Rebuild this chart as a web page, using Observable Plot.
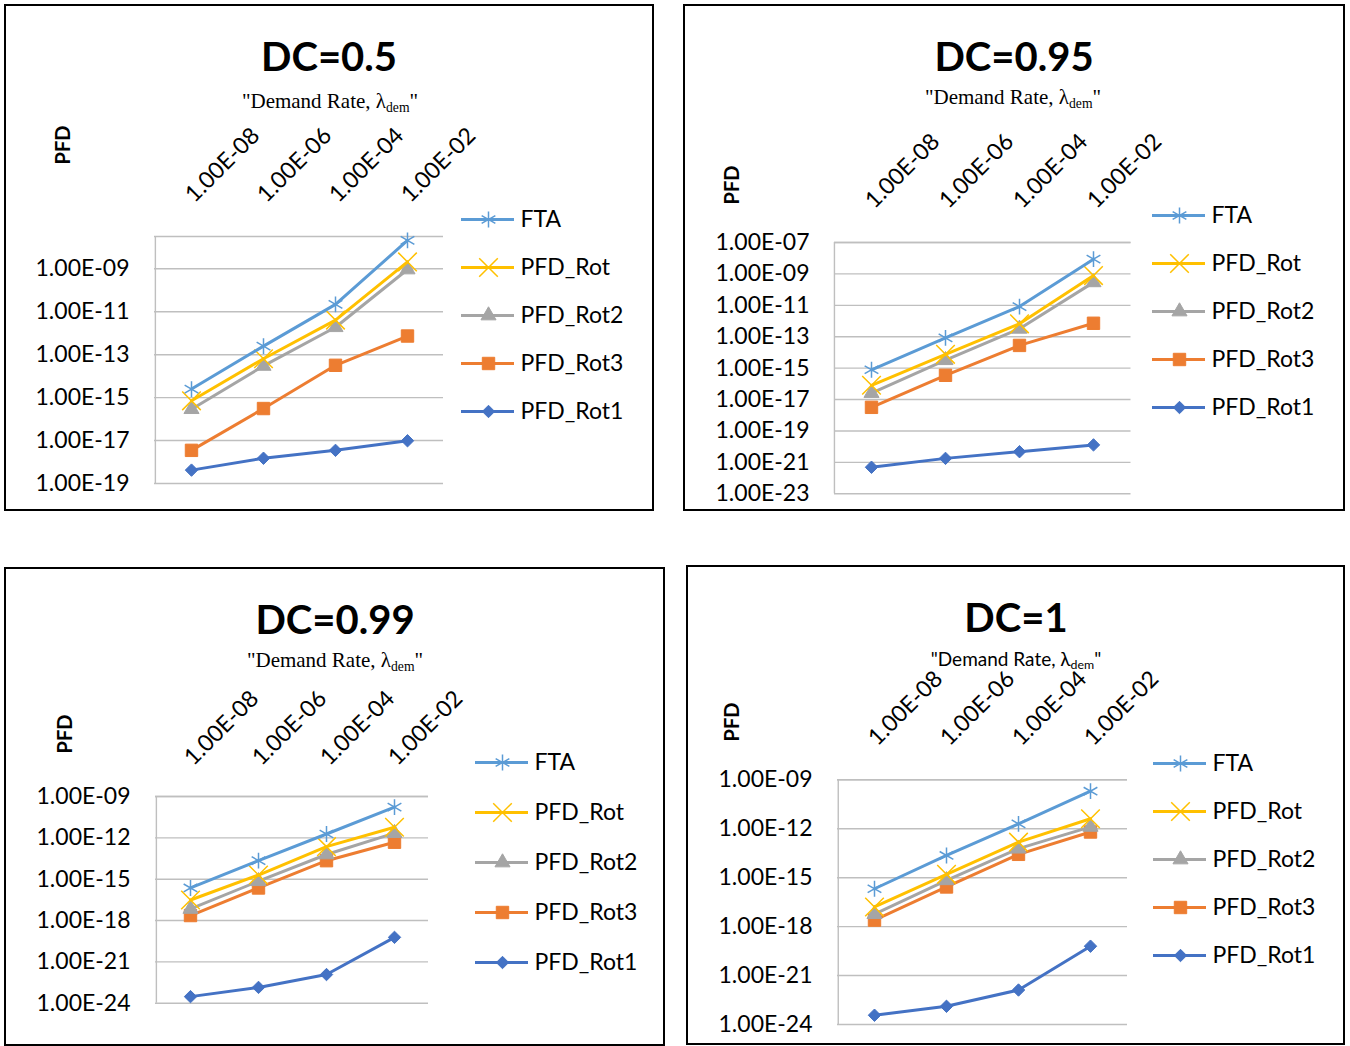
<!DOCTYPE html>
<html>
<head>
<meta charset="utf-8">
<script src="https://cdn.jsdelivr.net/npm/d3@7"></script>
<script src="https://cdn.jsdelivr.net/npm/@observablehq/plot@0.6"></script>
<style>
  html, body { margin: 0; padding: 0; background: #fff; }
  body { width: 1350px; height: 1046px; position: relative; overflow: hidden; font-family: Lato, "Open Sans", sans-serif; color: #000; }
  .box { position: absolute; border: 2.5px solid #000; box-sizing: border-box; }
  .abs { position: absolute; white-space: nowrap; line-height: 1; }
  .title { font-weight: 700; font-size: 40px; }
  .sub-serif { font-family: "Liberation Serif", "DejaVu Serif", serif; font-size: 21px; }
  .sub-sans { font-family: Lato, sans-serif; font-size: 19px; }
  .sub-serif sub, .sub-sans sub { font-size: 0.65em; vertical-align: -0.3em; line-height: 0; }
  .pfd { font-weight: 700; font-size: 20px; }
  svg { position: absolute; overflow: visible; }
</style>
</head>
<body>
<script>
// ---------------- DATA ----------------
const rates = ["1.00E-08", "1.00E-06", "1.00E-04", "1.00E-02"];
const seriesNames = ["FTA", "PFD_Rot", "PFD_Rot2", "PFD_Rot3", "PFD_Rot1"];
const seriesColors = ["#5B9BD5", "#FFC000", "#A5A5A5", "#ED7D31", "#4472C4"];
const seriesSymbols = ["asterisk", "times", "triangle", "square", "diamond2"];

// DC = 0.5
const dc050_FTA      = [2.5e-15, 2.5e-13, 2.2e-11, 2.1e-8];
const dc050_PFD_Rot  = [7.1e-16, 6.5e-14, 4.1e-12, 2.1e-9];
const dc050_PFD_Rot2 = [2.9e-16, 3.0e-14, 1.9e-12, 9.3e-10];
const dc050_PFD_Rot3 = [3.5e-18, 3.1e-16, 3.2e-14, 7.4e-13];
const dc050_PFD_Rot1 = [4.2e-19, 1.5e-18, 3.5e-18, 9.8e-18];
const dc050_ticks    = [1e-9, 1e-11, 1e-13, 1e-15, 1e-17, 1e-19];

// DC = 0.95
const dc095_FTA      = [7.9e-16, 8.5e-14, 8.3e-12, 8.7e-9];
const dc095_PFD_Rot  = [8.1e-17, 7.6e-15, 6.6e-13, 7.8e-10];
const dc095_PFD_Rot2 = [2.6e-17, 3.2e-15, 3.2e-13, 2.9e-10];
const dc095_PFD_Rot3 = [3.2e-18, 3.5e-16, 2.8e-14, 7.2e-13];
const dc095_PFD_Rot1 = [4.9e-22, 1.8e-21, 4.8e-21, 1.3e-20];
const dc095_ticks    = [1e-7, 1e-9, 1e-11, 1e-13, 1e-15, 1e-17, 1e-19, 1e-21, 1e-23];

// DC = 0.99
const dc099_FTA      = [2.3e-16, 2.2e-14, 1.9e-12, 1.7e-10];
const dc099_PFD_Rot  = [3.1e-17, 2.0e-15, 2.3e-13, 5.9e-12];
const dc099_PFD_Rot2 = [6.9e-18, 7.1e-16, 6.2e-14, 2.2e-12];
const dc099_PFD_Rot3 = [2.3e-18, 2.3e-16, 2.2e-14, 4.8e-13];
const dc099_PFD_Rot1 = [3.0e-24, 1.4e-23, 1.2e-22, 6.0e-20];
const dc099_ticks    = [1e-9, 1e-12, 1e-15, 1e-18, 1e-21, 1e-24];

// DC = 1
const dc100_FTA      = [2.1e-16, 2.3e-14, 2.0e-12, 2.0e-10];
const dc100_PFD_Rot  = [1.6e-17, 1.6e-15, 1.5e-13, 4.1e-12];
const dc100_PFD_Rot2 = [5.8e-18, 6.9e-16, 6.0e-14, 1.3e-12];
const dc100_PFD_Rot3 = [2.5e-18, 2.7e-16, 2.7e-14, 6.3e-13];
const dc100_PFD_Rot1 = [3.7e-24, 1.3e-23, 1.3e-22, 6.3e-20];
const dc100_ticks    = [1e-9, 1e-12, 1e-15, 1e-18, 1e-21, 1e-24];

const titles = ["DC=0.5", "DC=0.95", "DC=0.99", "DC=1"];
const subtitleHTML = '"Demand Rate, \u03bb<sub>dem</sub>"';
const yLabel = "PFD";

// ---------------- LAYOUT ----------------
const panels = [
  { title: titles[0], series: [dc050_FTA, dc050_PFD_Rot, dc050_PFD_Rot2, dc050_PFD_Rot3, dc050_PFD_Rot1], ticks: dc050_ticks, yMax: 3.2e-8,
    box: {l: 4, t: 4, r: 654, b: 511}, plot: {l: 154, t: 236, r: 443, b: 483},
    titleC: [329, 56], subC: [330, 101], subClass: "sub-serif", pfdC: [62, 145], xDy: -33,
    legend: {x: 461, r0: 218.3, r4: 411.7} },
  { title: titles[1], series: [dc095_FTA, dc095_PFD_Rot, dc095_PFD_Rot2, dc095_PFD_Rot3, dc095_PFD_Rot1], ticks: dc095_ticks, yMax: 1e-7,
    box: {l: 683, t: 4, r: 1345, b: 511}, plot: {l: 834, t: 242, r: 1130.5, b: 493.3},
    titleC: [1014, 56], subC: [1013, 97], subClass: "sub-serif", pfdC: [731, 185], xDy: -33,
    legend: {x: 1152, r0: 214, r4: 407} },
  { title: titles[2], series: [dc099_FTA, dc099_PFD_Rot, dc099_PFD_Rot2, dc099_PFD_Rot3, dc099_PFD_Rot1], ticks: dc099_ticks, yMax: 1e-9,
    box: {l: 4, t: 567, r: 665, b: 1046}, plot: {l: 155, t: 796, r: 428, b: 1002.7},
    titleC: [335, 619], subC: [335, 660], subClass: "sub-serif", pfdC: [64, 734], xDy: -30,
    legend: {x: 475, r0: 760, r4: 963} },
  { title: titles[3], series: [dc100_FTA, dc100_PFD_Rot, dc100_PFD_Rot2, dc100_PFD_Rot3, dc100_PFD_Rot1], ticks: dc100_ticks, yMax: 1e-9,
    box: {l: 686, t: 565, r: 1345, b: 1045}, plot: {l: 837, t: 779.3, r: 1127, b: 1024},
    titleC: [1016, 617], subC: [1016, 658], subClass: "sub-sans", pfdC: [731, 722], xDy: -33,
    legend: {x: 1153, r0: 762, r4: 955} }
];

const symbolSize = {asterisk: 7.5, times: 8.5, triangle: 5.6, square: 7, diamond2: 5.6};
const hollow = new Set(["asterisk", "times"]);

const fmtExp = v => {
  const e = Math.round(Math.log10(v));
  return "1.00E" + (e < 0 ? "-" : "+") + String(Math.abs(e)).padStart(2, "0");
};

function addText(html, cx, cy, cls, rotate = 0) {
  const d = document.createElement("div");
  d.className = "abs " + cls;
  d.innerHTML = html;
  d.style.left = cx + "px";
  d.style.top = cy + "px";
  d.style.transform = `translate(-50%, -50%) rotate(${rotate}deg)`;
  document.body.appendChild(d);
}

const drawOrder = [4, 3, 2, 1, 0];

for (const p of panels) {
  const box = document.createElement("div");
  box.className = "box";
  Object.assign(box.style, {left: p.box.l + "px", top: p.box.t + "px", width: (p.box.r - p.box.l) + "px", height: (p.box.b - p.box.t) + "px"});
  document.body.appendChild(box);

  addText(p.title, p.titleC[0], p.titleC[1], "title");
  addText(subtitleHTML, p.subC[0], p.subC[1], p.subClass);
  addText(yLabel, p.pfdC[0], p.pfdC[1], "pfd", -90);

  const W = p.box.r - p.box.l, H = p.box.b - p.box.t;
  const yMin = p.ticks[p.ticks.length - 1];
  const plotW = p.plot.r - p.plot.l;
  const marks = [
    Plot.ruleY(p.ticks, {stroke: "#BFBFBF", strokeWidth: 1.4}),
    Plot.ruleY([p.yMax], {stroke: "#BFBFBF", strokeWidth: 1.4}),
    Plot.ruleX([rates[0]], {y1: yMin, y2: p.yMax, dx: -plotW / 8, stroke: "#BFBFBF", strokeWidth: 1.4}),
    Plot.text(p.ticks, {y: d => d, frameAnchor: "left", textAnchor: "end", dx: -25, text: fmtExp, fontSize: 23, fill: "#000"}),
    Plot.text(rates, {x: d => d, frameAnchor: "top", dy: p.xDy, dx: 3, rotate: -45, textAnchor: "start", lineAnchor: "bottom", text: d => d, fontSize: 23, fill: "#000"})
  ];
  for (const i of drawOrder) {
    const rows = rates.map((r, k) => ({rate: r, value: p.series[i][k]}));
    const c = seriesColors[i], s = seriesSymbols[i];
    marks.push(Plot.line(rows, {x: "rate", y: "value", stroke: c, strokeWidth: 3}));
    marks.push(Plot.dot(rows, {x: "rate", y: "value", symbol: s, r: symbolSize[s],
      fill: hollow.has(s) ? "none" : c, stroke: c, strokeWidth: hollow.has(s) ? 1.5 : 1}));
  }
  const chart = Plot.plot({
    width: W, height: H,
    marginLeft: p.plot.l - p.box.l, marginRight: p.box.r - p.plot.r,
    marginTop: p.plot.t - p.box.t, marginBottom: p.box.b - p.plot.b,
    x: {type: "point", domain: rates, padding: 0.5, axis: null},
    y: {type: "log", domain: [yMin, p.yMax], axis: null},
    style: {fontFamily: "Lato, sans-serif", background: "transparent", overflow: "visible"},
    marks
  });
  chart.style.left = p.box.l + "px";
  chart.style.top = p.box.t + "px";
  document.body.appendChild(chart);

  // Legend
  const lg = p.legend, padT = 25;
  const legendMarks = [];
  seriesNames.forEach((name, i) => {
    const c = seriesColors[i], s = seriesSymbols[i];
    legendMarks.push(Plot.ruleY([name], {y: d => d, x1: 10, x2: 63, stroke: c, strokeWidth: 3}));
    legendMarks.push(Plot.dot([name], {x: 37, y: d => d, symbol: s, r: symbolSize[s],
      fill: hollow.has(s) ? "none" : c, stroke: c, strokeWidth: hollow.has(s) ? 1.5 : 1}));
    legendMarks.push(Plot.text([name], {x: 69, y: d => d, text: d => d, textAnchor: "start", fontSize: 23, fill: "#000"}));
  });
  const legend = Plot.plot({
    width: 200, height: (lg.r4 - lg.r0) + 2 * padT,
    margin: 0,
    x: {domain: [0, 200], range: [0, 200], axis: null},
    y: {type: "point", domain: seriesNames, range: [padT, padT + lg.r4 - lg.r0], padding: 0, axis: null},
    style: {fontFamily: "Lato, sans-serif", background: "transparent", overflow: "visible"},
    marks: legendMarks
  });
  legend.style.left = (lg.x - 10) + "px";
  legend.style.top = (lg.r0 - padT) + "px";
  document.body.appendChild(legend);
}
</script>
</body>
</html>
